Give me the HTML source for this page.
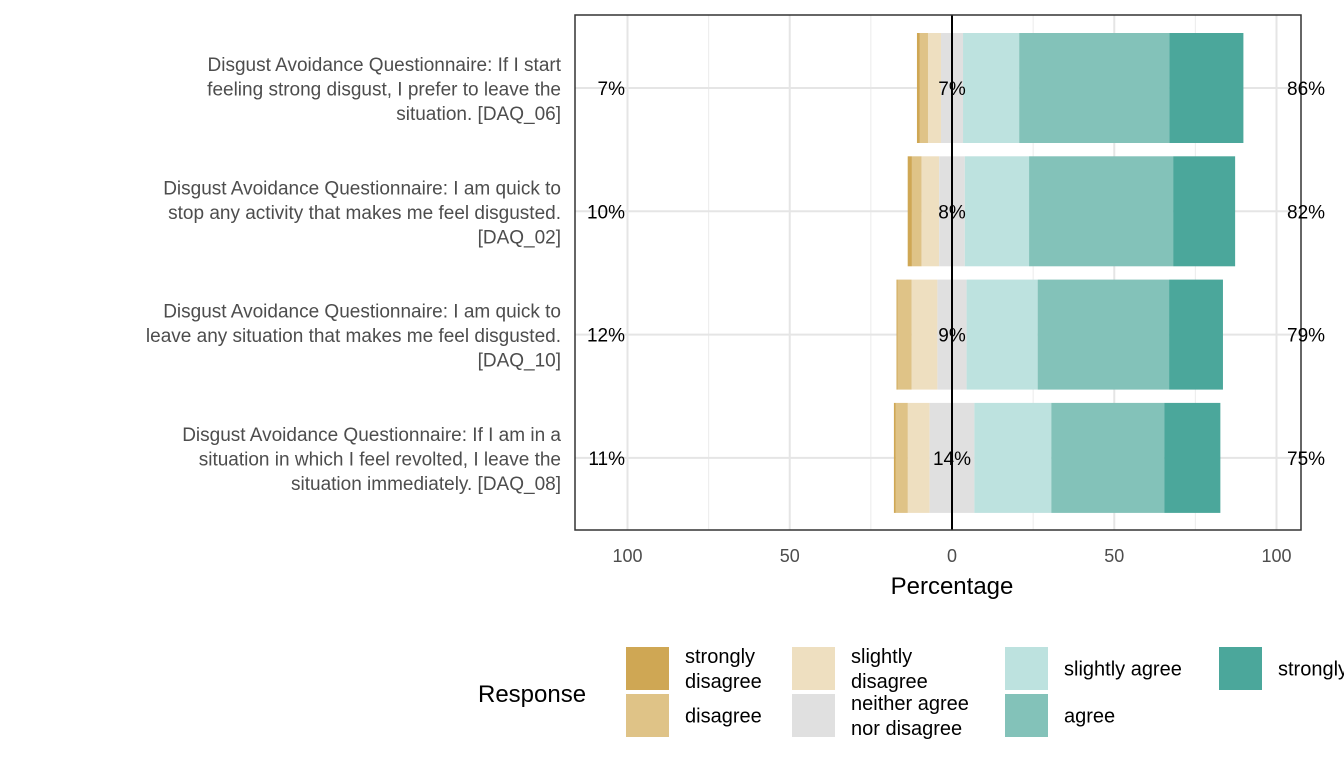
<!DOCTYPE html>
<html><head><meta charset="utf-8"><style>
body{margin:0;background:#fff;font-family:"Liberation Sans",Arial,sans-serif}
svg{display:block}
</style></head><body>
<svg id="chart" width="1344" height="768" xmlns="http://www.w3.org/2000/svg" font-family="Liberation Sans, Arial, sans-serif">
<g id="grid"></g>
<g id="bars"></g>
<g id="labels"></g>
<g id="legend"></g>
</svg>
<script>
const items = [
 ["Disgust Avoidance Questionnaire: If I start","feeling strong disgust, I prefer to leave the","situation. [DAQ_06]"],
 ["Disgust Avoidance Questionnaire: I am quick to","stop any activity that makes me feel disgusted.","[DAQ_02]"],
 ["Disgust Avoidance Questionnaire: I am quick to","leave any situation that makes me feel disgusted.","[DAQ_10]"],
 ["Disgust Avoidance Questionnaire: If I am in a","situation in which I feel revolted, I leave the","situation immediately. [DAQ_08]"]
];
const stronglyDisagree=[0.9,1.3,0.3,0.6];
const disagree=[2.5,3.0,4.4,3.7];
const slightlyDisagree=[4.0,5.4,7.9,6.7];
const neutral=[6.8,7.9,9.0,13.8];
const slightlyAgree=[17.3,19.8,21.9,23.7];
const agree=[46.3,44.4,40.5,34.8];
const stronglyAgree=[22.8,19.1,16.6,17.3];
const leftLabels=["7%","10%","12%","11%"];
const midLabels=["7%","8%","9%","14%"];
const rightLabels=["86%","82%","79%","75%"];
const xTicks=[-100,-50,0,50,100];
const xMinor=[-75,-25,25,75];
const colors=["#CFA754","#DFC387","#EEDFC0","#E0E0E0","#BDE2DF","#83C2B9","#4BA79B"];
const respNames=["strongly disagree","disagree","slightly disagree","neither agree nor disagree","slightly agree","agree","strongly agree"];

const NS="http://www.w3.org/2000/svg";
const x=v=>952+v*3.245;
const yc=i=>88+i*123.3;
const BH=110;
function mk(tag,parent,attrs){const e=document.createElementNS(NS,tag);for(const k in attrs)e.setAttribute(k,attrs[k]);parent.appendChild(e);return e;}
const grid=document.getElementById('grid'),bars=document.getElementById('bars'),labels=document.getElementById('labels'),legend=document.getElementById('legend');
const P={l:575,r:1301,t:15,b:530};
mk('rect',grid,{x:P.l,y:P.t,width:P.r-P.l,height:P.b-P.t,fill:'#fff'});
xMinor.forEach(v=>{const l=mk('line',grid,{x1:x(v),x2:x(v),y1:P.t,y2:P.b,stroke:'#EBEBEB','stroke-width':1});
});
xTicks.forEach(v=>{const l=mk('line',grid,{x1:x(v),x2:x(v),y1:P.t,y2:P.b,stroke:'#E5E5E5','stroke-width':2});

const t=mk('text',grid,{x:x(v),y:562,'text-anchor':'middle','font-size':18,fill:'#4D4D4D'});t.textContent=Math.abs(v);
});
items.forEach((it,i)=>{const l=mk('line',grid,{x1:P.l,x2:P.r,y1:yc(i),y2:yc(i),stroke:'#E5E5E5','stroke-width':2});
});

const series=[stronglyDisagree,disagree,slightlyDisagree,neutral,slightlyAgree,agree,stronglyAgree];
items.forEach((it,i)=>{
  const segs=series.map(s=>s[i]);
  let start=-(segs[0]+segs[1]+segs[2]+segs[3]/2);
  segs.forEach((v,k)=>{
    const r=mk('rect',bars,{x:x(start),y:yc(i)-BH/2,width:Math.max(0,x(start+v)-x(start)),height:BH,fill:colors[k]});
    
    
    start+=v;
  });
  const t1=mk('text',labels,{x:625,y:yc(i)+7,'text-anchor':'end','font-size':19,fill:'#000'});t1.textContent=leftLabels[i];
  
  const t2=mk('text',labels,{x:952,y:yc(i)+7,'text-anchor':'middle','font-size':19,fill:'#000'});t2.textContent=midLabels[i];
  
  const t3=mk('text',labels,{x:1287,y:yc(i)+7,'text-anchor':'start','font-size':19,fill:'#000'});t3.textContent=rightLabels[i];
  
  it.forEach((line,j)=>{const t=mk('text',labels,{x:561,y:yc(i)-17+j*24.5,'text-anchor':'end','font-size':19,fill:'#4D4D4D'});t.textContent=line;
    });
});
const z=mk('line',bars,{x1:x(0),x2:x(0),y1:P.t,y2:P.b,stroke:'#000','stroke-width':2});

const bd=mk('rect',bars,{x:P.l,y:P.t,width:P.r-P.l,height:P.b-P.t,fill:'none',stroke:'#333','stroke-width':1.5});

const xt=mk('text',labels,{x:952,y:594,'text-anchor':'middle','font-size':24,fill:'#000'});xt.textContent='Percentage';


const lt=mk('text',legend,{x:478,y:702,'font-size':24,fill:'#000'});lt.textContent='Response';

const colX=[626,792,1005,1219],rowY=[647,694];
const legLabels=[["strongly","disagree"],["disagree"],["slightly","disagree"],["neither agree","nor disagree"],["slightly agree"],["agree"],["strongly agree"]];
legLabels.forEach((lines,k)=>{
  const c=Math.floor(k/2),r=k%2;
  const g=mk('g',legend,{});
  
  mk('rect',g,{x:colX[c],y:rowY[r],width:43,height:43,fill:colors[k]});
  const cy=rowY[r]+21.5;
  lines.forEach((ln,j)=>{const t=mk('text',g,{x:colX[c]+59,y:cy+7+(j-(lines.length-1)/2)*25,'font-size':20,fill:'#000'});t.textContent=ln;});
});
</script>
</body></html>
